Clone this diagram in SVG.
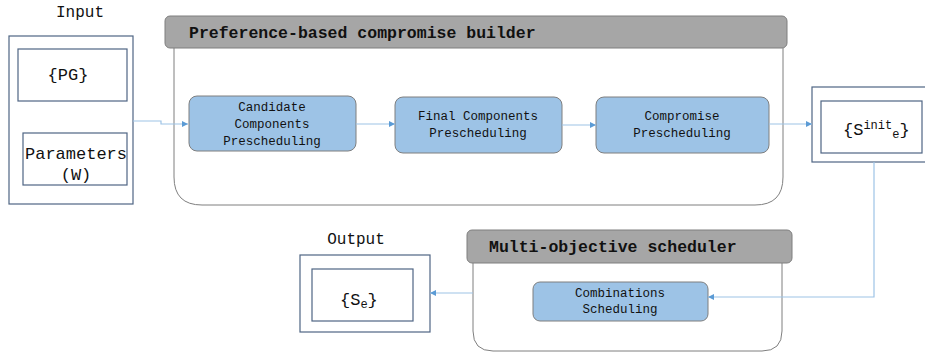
<svg xmlns="http://www.w3.org/2000/svg" width="925" height="356" viewBox="0 0 925 356">
<defs>
<marker id="ah" viewBox="0 0 10 10" refX="10" refY="5" markerWidth="6" markerHeight="6" orient="auto" markerUnits="userSpaceOnUse"><path d="M0,0 L10,5 L0,10 z" fill="#5b9bd5"/></marker>
<style>
text{font-family:"Liberation Mono","Courier New",monospace;fill:#111}
.lbl{font-size:16px}
.box{fill:#fff;stroke:#4f6584;stroke-width:1.2}
.hdr{fill:#a6a6a6;stroke:#7f7f7f;stroke-width:1}
.hdrt{font-size:16.5px;font-weight:bold}
.body{fill:#fff;stroke:#7f7f7f;stroke-width:1}
.blue{fill:#9dc3e6;stroke:#7f7f7f;stroke-width:1}
.bt{font-size:12.5px;text-anchor:middle}
.big{font-size:17px;text-anchor:middle}
.con{fill:none;stroke:#9dc3e6;stroke-width:1.2}
</style>
</defs>
<g id="input">
<text class="lbl" x="80" y="17" text-anchor="middle">Input</text>
<rect class="box" x="9" y="36" width="124" height="168"/>
</g>
<g id="pg">
<rect class="box" x="18" y="49" width="109" height="52"/>
<text class="big" x="68" y="80">{PG}</text>
</g>
<g id="params">
<rect class="box" x="23" y="133" width="104" height="52"/>
<text class="big" x="76" y="159">Parameters</text>
<text class="big" x="76" y="180">(W)</text>
</g>
<g id="pref">
<path class="body" d="M174,48 V177 Q174,205 202,205 H755 Q783,205 783,177 V48"/>
<rect class="hdr" x="165" y="16" width="622" height="32" rx="5"/>
<text class="hdrt" x="189" y="38">Preference-based compromise builder</text>
</g>
<g id="candidate">
<rect class="blue" x="189" y="96" width="167" height="55" rx="8"/>
<text class="bt" x="272" y="111">Candidate</text>
<text class="bt" x="272" y="128">Components</text>
<text class="bt" x="272" y="145">Prescheduling</text>
</g>
<g id="final">
<rect class="blue" x="395" y="97" width="167" height="56" rx="8"/>
<text class="bt" x="478" y="120">Final Components</text>
<text class="bt" x="478" y="137">Prescheduling</text>
</g>
<g id="compromise">
<rect class="blue" x="596" y="97" width="173" height="56" rx="8"/>
<text class="bt" x="682" y="120">Compromise</text>
<text class="bt" x="682" y="137">Prescheduling</text>
</g>
<g id="sinit">
<rect class="box" x="812" y="87" width="116" height="75"/>
<rect class="box" x="821" y="101" width="101" height="52"/>
<text x="843" y="135" style="font-size:17px">{S<tspan dy="-6" style="font-size:12px">init</tspan><tspan dy="9" style="font-size:12px">e</tspan><tspan dy="-3">}</tspan></text>
</g>
<g id="multi">
<path class="body" d="M473,263 V331 Q473,351 493,351 H762 Q782,351 782,331 V263"/>
<rect class="hdr" x="467" y="230" width="325" height="33" rx="5"/>
<text class="hdrt" x="489" y="252">Multi-objective scheduler</text>
</g>
<g id="combinations">
<rect class="blue" x="533" y="282" width="175" height="39" rx="7"/>
<text class="bt" x="620" y="297">Combinations</text>
<text class="bt" x="620" y="313">Scheduling</text>
</g>
<g id="output">
<text class="lbl" x="356" y="244" text-anchor="middle">Output</text>
<rect class="box" x="300" y="255" width="130" height="77"/>
<rect class="box" x="312" y="269" width="101" height="52"/>
<text x="340" y="305" style="font-size:17px">{S<tspan dy="3" style="font-size:12px">e</tspan><tspan dy="-3">}</tspan></text>
</g>
<g id="connectors">
<path class="con" d="M133,121 H161 V124 H188" marker-end="url(#ah)"/>
<path class="con" d="M356,124 H395" marker-end="url(#ah)"/>
<path class="con" d="M562,125 H596" marker-end="url(#ah)"/>
<path class="con" d="M769,124 H812" marker-end="url(#ah)"/>
<path class="con" d="M874,162 V297 H708" marker-end="url(#ah)"/>
<path class="con" d="M473,293 H430" marker-end="url(#ah)"/>
</g>
</svg>
